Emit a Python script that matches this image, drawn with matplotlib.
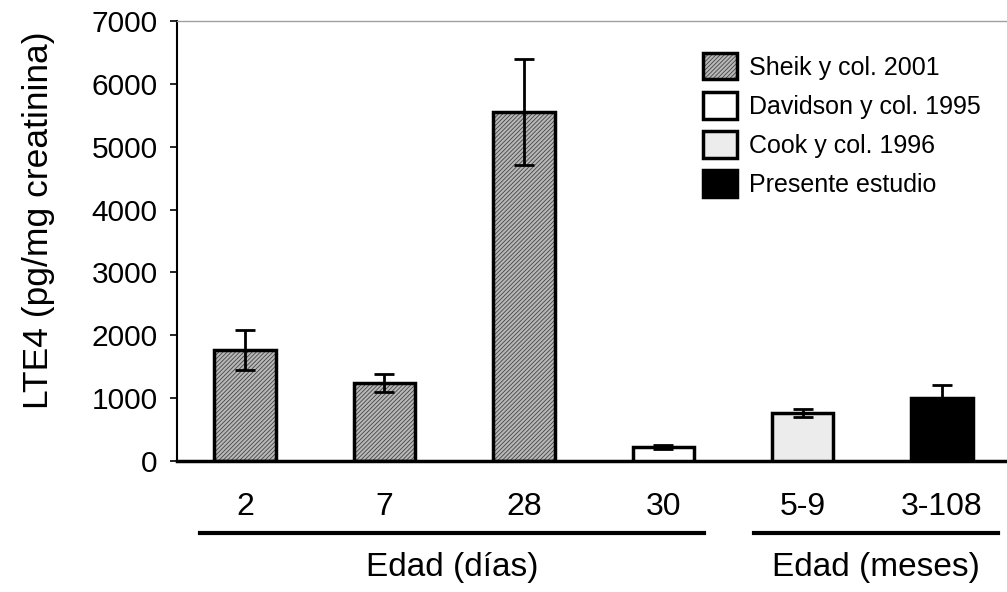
import matplotlib
matplotlib.use('Agg')
import matplotlib.pyplot as plt
from matplotlib.patches import Patch

# data
ages = ['2', '7', '28', '30', '5-9', '3-108']
lte4 = [1770, 1240, 5550, 220, 760, 1000]
lte4_err = [320, 140, 840, 30, 65, 210]
study = ['sheik', 'sheik', 'sheik', 'davidson', 'cook', 'presente']

study_labels = ['Sheik y col. 2001', 'Davidson y col. 1995',
                'Cook y col. 1996', 'Presente estudio']
study_keys = ['sheik', 'davidson', 'cook', 'presente']
face = {'sheik': '#b8b8b8', 'davidson': 'white',
        'cook': '#ececec', 'presente': 'black'}

# (caption, start, end) of the underlines, in bar positions
groups = [('Edad (días)', -0.32, 3.29), ('Edad (meses)', 3.65, 5.40)]

yticks = [0, 1000, 2000, 3000, 4000, 5000, 6000, 7000]

plt.rcParams['font.family'] = ['Liberation Sans', 'DejaVu Sans']
plt.rcParams['hatch.linewidth'] = 0.6

fig = plt.figure(figsize=(10.07, 5.92), dpi=100)
ax = fig.add_axes([0.1758, 0.2213, 0.8242, 0.7432])

x = list(range(len(ages)))
width = 0.44

for i in x:
    key = study[i]
    if key == 'sheik':
        ax.bar(i, lte4[i], width, color=face[key], edgecolor='#444444',
               hatch='////////', linewidth=0, zorder=2)
        ax.bar(i, lte4[i], width, facecolor='none', edgecolor='black',
               linewidth=2.5, zorder=3)
    else:
        ax.bar(i, lte4[i], width, color=face[key], edgecolor='black',
               linewidth=2.5, zorder=3)

ax.errorbar(x, lte4, yerr=lte4_err, fmt='none', ecolor='black',
            elinewidth=2, capsize=7, capthick=2, zorder=4)

ax.set_xlim(-0.488, 5.466)
ax.set_ylim(0, 7000)
ax.set_yticks(yticks)
ax.set_yticklabels([str(v) for v in yticks], fontsize=21.5)
ax.set_xticks(x)
ax.set_xticklabels(ages, fontsize=23)
ax.tick_params(axis='x', length=0, pad=22)
ax.tick_params(axis='y', direction='out', length=5, width=1.2, pad=9)

ax.set_ylabel('LTE4 (pg/mg creatinina)', fontsize=25.5)
ax.yaxis.set_label_coords(-0.147, 0.548)

ax.spines['right'].set_visible(False)
ax.spines['top'].set_color('#a0a0a0')
ax.spines['top'].set_linewidth(1)
ax.spines['left'].set_linewidth(1.5)
ax.spines['bottom'].set_linewidth(2.5)

# group lines and captions under the tick labels
trans = ax.get_xaxis_transform()
for name, start, end in groups:
    ax.plot([start, end], [-0.164, -0.164], color='black',
            linewidth=3, transform=trans, clip_on=False)
    ax.text((start + end) / 2, -0.243, name, transform=trans,
            ha='center', va='center', fontsize=24)

handles = []
for key in study_keys:
    if key == 'sheik':
        handles.append((Patch(facecolor=face[key], edgecolor='#444444',
                              hatch='////////', linewidth=0),
                        Patch(facecolor='none', edgecolor='black',
                              linewidth=2.5)))
    else:
        handles.append(Patch(facecolor=face[key], edgecolor='black',
                             linewidth=2.5))

ax.legend(handles, study_labels, loc='upper left',
          bbox_to_anchor=(703 / 1007, 1 - 53 / 592),
          bbox_transform=fig.transFigure, frameon=False,
          prop={'size': 18},
          handlelength=1.35, handleheight=1.25, handletextpad=0.5,
          labelspacing=0.5, borderpad=0, borderaxespad=0)

plt.savefig('out.png', dpi=100)
